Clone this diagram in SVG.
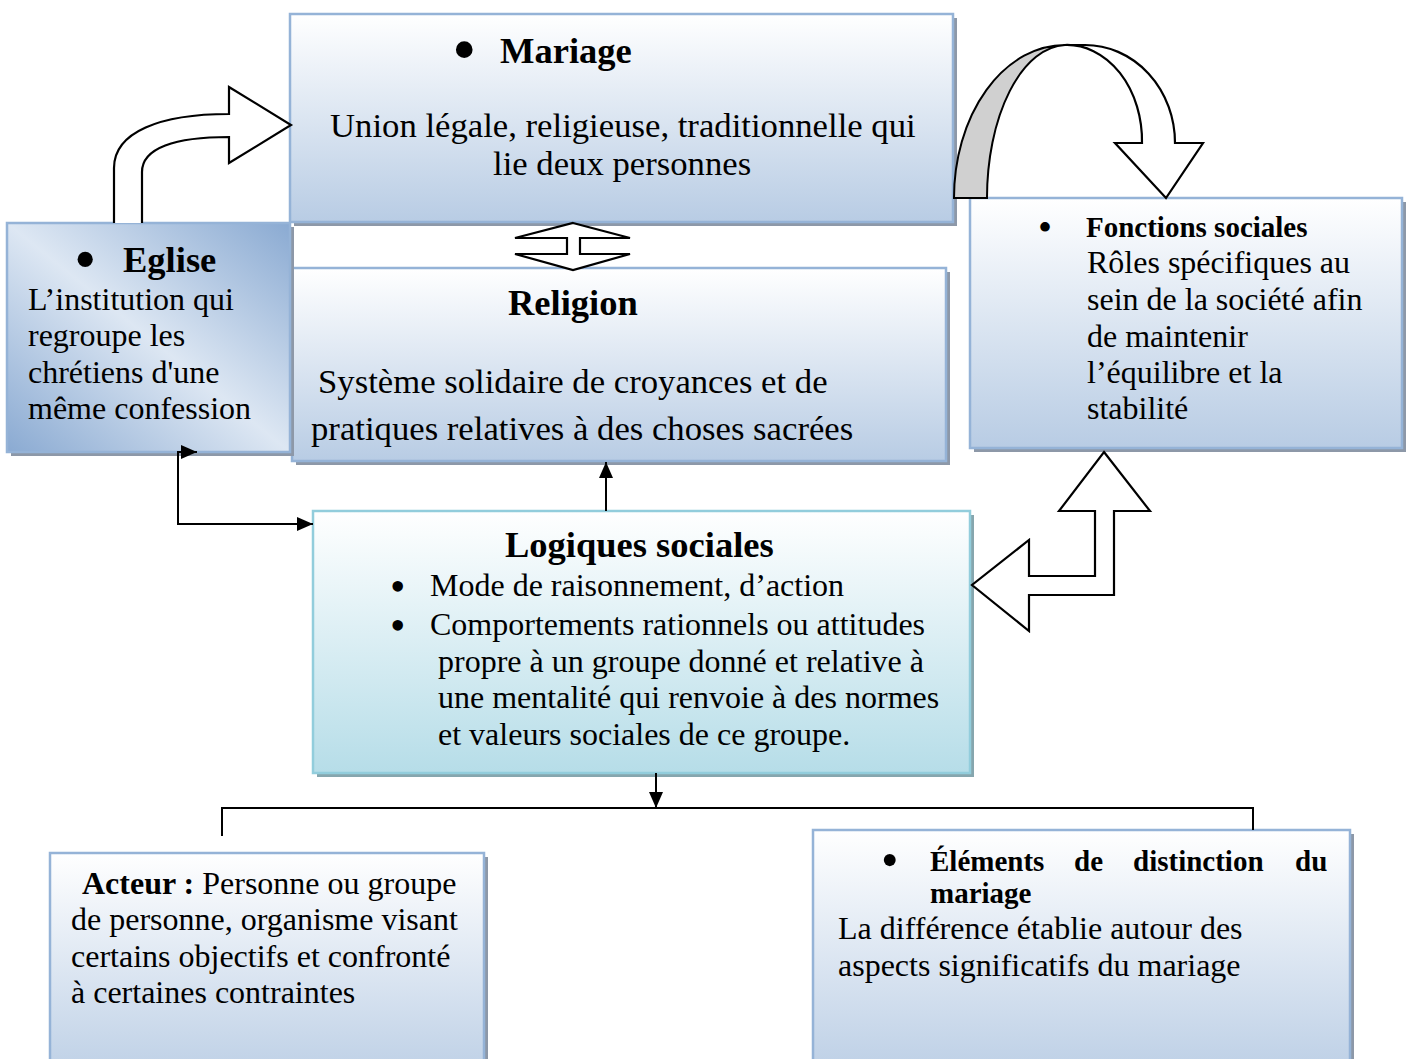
<svg xmlns="http://www.w3.org/2000/svg" width="1414" height="1059" viewBox="0 0 1414 1059">
<defs>
<linearGradient id="gBlue" x1="0" y1="0" x2="0" y2="1">
<stop offset="0" stop-color="#ffffff"/><stop offset="1" stop-color="#b8cce4"/>
</linearGradient>
<linearGradient id="gTeal" x1="0" y1="0" x2="0" y2="1">
<stop offset="0" stop-color="#ffffff"/><stop offset="1" stop-color="#b6dde8"/>
</linearGradient>
<linearGradient id="gDiag" x1="1" y1="0" x2="0" y2="1">
<stop offset="0" stop-color="#8aaad2"/><stop offset="0.5" stop-color="#dde7f3"/><stop offset="1" stop-color="#8aaad2"/>
</linearGradient>
<marker id="ah" viewBox="0 0 16 14" refX="16" refY="7" markerWidth="16" markerHeight="14" markerUnits="userSpaceOnUse" orient="auto-start-reverse">
<path d="M0,0 L16,7 L0,14 Z" fill="#000"/>
</marker>
<style>
.box{stroke:#95b3d7;stroke-width:2.5}
.tbox{stroke:#92cddc;stroke-width:2.5}
.sh{fill:#8d98a8}
.tsh{fill:#86a6ae}
text{font-family:"Liberation Serif","Times New Roman",serif;fill:#000}
.h{font-weight:bold;font-size:36.5px}
.hs{font-weight:bold;font-size:29px}
.b{font-size:34.7px}
.t{font-size:32px}
.ln{stroke:#000;stroke-width:2;fill:none}
.blk{stroke:#000;stroke-width:2.2;fill:#fff;stroke-linejoin:miter}
</style>
</defs>

<g id="mariage">
<rect class="sh" x="294" y="18" width="663" height="208"/>
<rect class="box" x="290" y="14" width="663" height="208" fill="url(#gBlue)"/>
<text class="h"><tspan x="452" y="73" style="font-size:70px;font-weight:normal">•</tspan><tspan x="500" y="63">Mariage</tspan></text>
<text class="b" x="330" y="137">Union légale, religieuse, traditionnelle qui</text>
<text class="b" x="493" y="175">lie deux personnes</text>
</g>

<g id="religion">
<rect class="sh" x="296" y="272" width="654" height="193"/>
<rect class="box" x="292" y="268" width="654" height="193" fill="url(#gBlue)"/>
<text class="h" x="508" y="315">Religion</text>
<text class="b" x="318" y="393">Système solidaire de croyances et de</text>
<text class="b" x="311" y="440">pratiques relatives à des choses sacrées</text>
</g>

<g id="eglise">
<rect class="sh" x="11" y="227" width="283" height="229"/>
<rect class="box" x="7" y="223" width="283" height="229" fill="url(#gDiag)"/>
<text class="h"><tspan x="74" y="281" style="font-size:64px;font-weight:normal">•</tspan><tspan x="123" y="272">Eglise</tspan></text>
<text class="t" x="28" y="310">L’institution qui</text>
<text class="t" x="28" y="346">regroupe les</text>
<text class="t" x="28" y="383">chrétiens d'une</text>
<text class="t" x="28" y="419">même confession</text>
</g>

<g id="fonctions">
<rect class="sh" x="974" y="202" width="432" height="250"/>
<rect class="box" x="970" y="198" width="432" height="250" fill="url(#gBlue)"/>
<text class="hs"><tspan x="1038" y="241" style="font-size:40px;font-weight:normal">•</tspan><tspan x="1086" y="237">Fonctions sociales</tspan></text>
<text class="t" x="1087" y="273">Rôles spécifiques au</text>
<text class="t" x="1087" y="310">sein de la société afin</text>
<text class="t" x="1087" y="347">de maintenir</text>
<text class="t" x="1087" y="383">l’équilibre et la</text>
<text class="t" x="1087" y="419">stabilité</text>
</g>

<g id="logiques">
<rect class="tsh" x="317" y="515" width="657" height="262"/>
<rect class="tbox" x="313" y="511" width="657" height="262" fill="url(#gTeal)"/>
<text class="h" x="505" y="557">Logiques sociales</text>
<text class="t"><tspan x="390" y="601" style="font-size:44px">•</tspan><tspan x="430" y="596">Mode de raisonnement, d’action</tspan></text>
<text class="t"><tspan x="390" y="640" style="font-size:44px">•</tspan><tspan x="430" y="635">Comportements rationnels ou attitudes</tspan></text>
<text class="t" x="438" y="672">propre à un groupe donné et relative à</text>
<text class="t" x="438" y="708">une mentalité qui renvoie à des normes</text>
<text class="t" x="438" y="745">et valeurs sociales de ce groupe.</text>
</g>

<g id="acteur">
<rect class="sh" x="54" y="857" width="434" height="240"/>
<rect class="box" x="50" y="853" width="434" height="240" fill="url(#gBlue)"/>
<text class="t" x="82" y="894"><tspan font-weight="bold">Acteur :</tspan> Personne ou groupe</text>
<text class="t" x="71" y="930">de personne, organisme visant</text>
<text class="t" x="71" y="967">certains objectifs et confronté</text>
<text class="t" x="71" y="1003">à certaines contraintes</text>
</g>

<g id="elements">
<rect class="sh" x="817" y="834" width="537" height="260"/>
<rect class="box" x="813" y="830" width="537" height="260" fill="url(#gBlue)"/>
<text class="hs"><tspan x="881" y="877" style="font-size:50px;font-weight:normal">•</tspan><tspan x="930" y="871">Éléments</tspan><tspan x="1074" y="871">de</tspan><tspan x="1133" y="871">distinction</tspan><tspan x="1295" y="871">du</tspan></text>
<text class="hs" x="930" y="903">mariage</text>
<text class="t" x="838" y="939">La différence établie autour des</text>
<text class="t" x="838" y="976">aspects significatifs du mariage</text>
</g>

<g id="connectors">
<path class="blk" d="M114,223 L114,168 C114,132 160,114 229,114 L229,87 L291,125 L229,163 L229,137 C175,137 142,148 142,172 L142,223"/>
<path d="M954,198 A111,153 0 0 1 1065,45 A80,153 0 0 0 987,198 Z" fill="#d0d0d0" stroke="#000" stroke-width="2"/>
<path class="blk" d="M1065,45 L1085,45 A90,98 0 0 1 1175,143 L1203,143 L1166,198 L1115,143 L1142,143 A75,96 0 0 0 1065,45 Z"/>
<polygon class="blk" points="573,223 630,238 580,238 580,254 630,254 573,270 515,254 567,254 567,238 515,238"/>
<polygon class="blk" points="1104,452 1150,511 1114,511 1114,595 1029,595 1029,631 972,585 1029,540 1029,576 1095,576 1095,511 1059,511"/>
<line class="ln" x1="606" y1="511" x2="606" y2="462" marker-end="url(#ah)"/>
<polyline class="ln" points="197,452 178,452 178,524 313,524" marker-start="url(#ah)" marker-end="url(#ah)"/>
<line class="ln" x1="656" y1="773" x2="656" y2="808" marker-end="url(#ah)"/>
<line class="ln" x1="222" y1="808" x2="1254" y2="808"/>
<line class="ln" x1="222" y1="807" x2="222" y2="836"/>
<line class="ln" x1="1253" y1="807" x2="1253" y2="830"/>
</g>
</svg>
